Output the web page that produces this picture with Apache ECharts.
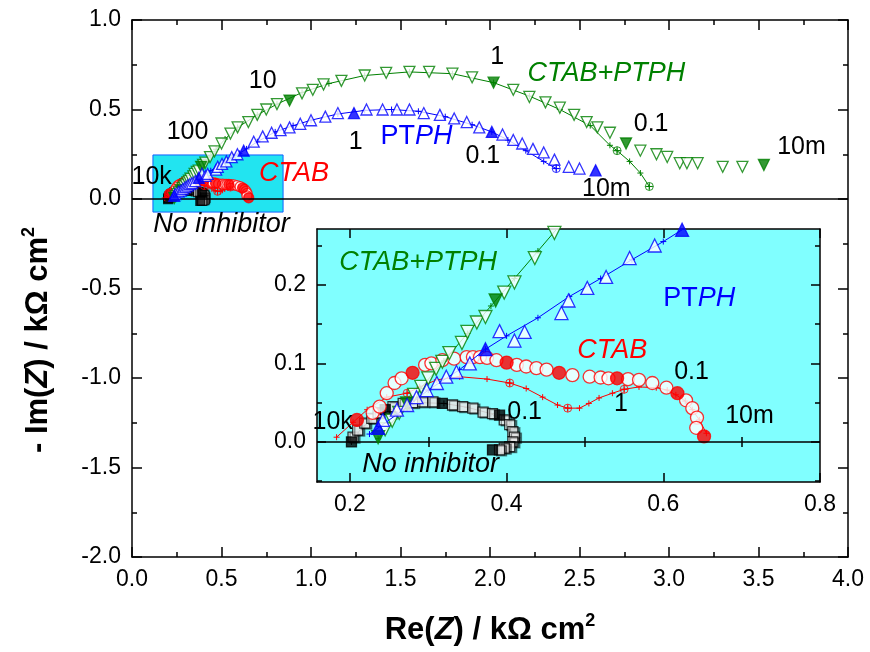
<!DOCTYPE html>
<html><head><meta charset="utf-8">
<script src="https://cdn.jsdelivr.net/npm/echarts@6/dist/echarts.min.js"></script>
<style>html,body{margin:0;padding:0;background:#fff}#c{width:870px;height:652px}</style>
</head><body><div id="c"></div><script>
// Nyquist impedance data, [Re(Z), -Im(Z)] in kOhm cm2
const noInhOpen = [[0.204,0.006],[0.21,0.015],[0.219,0.024],[0.228,0.030],[0.236,0.037],[0.255,0.045],[0.268,0.049],[0.280,0.050],[0.293,0.051],[0.306,0.051],[0.331,0.047],[0.344,0.045],[0.357,0.043],[0.37,0.038],[0.382,0.036],[0.397,0.028],[0.404,0.022],[0.408,0.013],[0.41,0.006],[0.408,0.0],[0.404,-0.006],[0.397,-0.008],[0.391,-0.010]];
const noInhFilled = [[0.202,0.0],[0.245,0.041],[0.318,0.049],[0.391,0.034],[0.382,-0.010]];
const noInhFit = [[0.202,0.0],[0.215,0.018],[0.235,0.033],[0.26,0.044],[0.29,0.050],[0.32,0.049],[0.35,0.044],[0.38,0.036],[0.40,0.024],[0.41,0.008],[0.408,-0.002]];

const ctabOpen = [[0.229,0.037],[0.238,0.045],[0.247,0.062],[0.257,0.075],[0.266,0.081],[0.296,0.098],[0.304,0.100],[0.318,0.104],[0.333,0.106],[0.349,0.108],[0.357,0.108],[0.366,0.108],[0.375,0.107],[0.387,0.104],[0.413,0.098],[0.425,0.096],[0.438,0.094],[0.451,0.092],[0.484,0.085],[0.506,0.083],[0.52,0.082],[0.53,0.081],[0.555,0.080],[0.569,0.079],[0.586,0.075],[0.604,0.069],[0.629,0.053],[0.637,0.043],[0.643,0.031],[0.642,0.018]];
const ctabFilled = [[0.209,0.028],[0.28,0.088],[0.40,0.101],[0.467,0.088],[0.541,0.081],[0.618,0.062],[0.652,0.007]];
const ctabFit = [[0.183,0.006],[0.204,0.025],[0.222,0.041],[0.247,0.057],[0.273,0.062],[0.289,0.070],[0.311,0.079],[0.340,0.083],[0.375,0.080],[0.404,0.075],[0.425,0.068],[0.446,0.057],[0.465,0.047],[0.478,0.043],[0.493,0.043],[0.505,0.049],[0.518,0.056],[0.535,0.062],[0.55,0.067],[0.569,0.070],[0.591,0.069],[0.605,0.066],[0.616,0.060],[0.628,0.052],[0.637,0.041],[0.646,0.028],[0.655,0.011]];
const ctabFitDecades = [[0.273,0.062],[0.404,0.075],[0.478,0.043],[0.55,0.067]];

const ptphOpen = [[0.242,0.028],[0.26,0.041],[0.273,0.047],[0.285,0.057],[0.298,0.066],[0.311,0.075],[0.323,0.083],[0.336,0.089],[0.353,0.100],[0.391,0.141],[0.410,0.129],[0.423,0.140],[0.470,0.164],[0.479,0.180],[0.503,0.196],[0.527,0.210],[0.557,0.234],[0.589,0.250],[0.68,0.32],[0.73,0.35],[0.78,0.37],[0.83,0.385],[0.88,0.40],[0.94,0.42],[1.00,0.44],[1.08,0.46],[1.15,0.48],[1.31,0.50],[1.40,0.50],[1.48,0.50],[1.55,0.50],[1.63,0.48],[1.72,0.47],[1.80,0.45],[1.87,0.43],[1.94,0.40],[2.07,0.36],[2.13,0.33],[2.18,0.31],[2.24,0.28],[2.30,0.26],[2.36,0.22],[2.44,0.18],[2.50,0.17]];
const ptphFilled = [[0.236,0.018],[0.373,0.118],[0.624,0.27],[1.24,0.48],[2.01,0.375],[2.59,0.16]];
const ptphFit = [[0.225,0.01],[0.26,0.035],[0.30,0.066],[0.34,0.092],[0.373,0.118],[0.40,0.135],[0.44,0.158],[0.48,0.185],[0.52,0.208],[0.56,0.232],[0.60,0.255],[0.64,0.28],[0.70,0.32],[0.80,0.375],[0.90,0.41],[1.00,0.44],[1.15,0.475],[1.30,0.495],[1.45,0.50],[1.60,0.49],[1.75,0.46],[1.90,0.415],[2.01,0.375],[2.10,0.33],[2.20,0.27],[2.30,0.21],[2.37,0.17]];
const ptphFitDecades = [[2.37,0.17]];

const mixOpen = [[0.245,0.016],[0.254,0.027],[0.263,0.037],[0.282,0.06],[0.291,0.07],[0.300,0.081],[0.310,0.093],[0.318,0.102],[0.327,0.113],[0.343,0.126],[0.350,0.140],[0.362,0.152],[0.373,0.159],[0.397,0.19],[0.410,0.203],[0.436,0.234],[0.461,0.266],[0.50,0.31],[0.55,0.365],[0.59,0.40],[0.65,0.43],[0.70,0.47],[0.75,0.50],[0.81,0.53],[0.95,0.59],[1.01,0.61],[1.07,0.64],[1.17,0.66],[1.30,0.69],[1.42,0.705],[1.55,0.71],[1.66,0.71],[1.79,0.70],[1.90,0.68],[2.13,0.61],[2.22,0.57],[2.31,0.54],[2.39,0.51],[2.47,0.47],[2.54,0.43],[2.60,0.40],[2.67,0.37],[2.84,0.27],[2.93,0.25],[2.99,0.235],[3.06,0.20],[3.10,0.20],[3.16,0.20],[3.30,0.18],[3.41,0.18]];
const mixFilled = [[0.236,0.006],[0.273,0.049],[0.386,0.18],[0.88,0.55],[2.02,0.65],[2.76,0.31],[3.53,0.19]];
const mixFit = [[0.236,0.004],[0.26,0.032],[0.29,0.068],[0.32,0.103],[0.35,0.138],[0.38,0.173],[0.41,0.208],[0.44,0.243],[0.47,0.278],[0.52,0.335],[0.59,0.40],[0.70,0.47],[0.81,0.53],[0.95,0.595],[1.10,0.645],[1.30,0.69],[1.55,0.71],[1.79,0.70],[2.02,0.65],[2.22,0.575],[2.39,0.50],[2.56,0.41],[2.67,0.30],[2.71,0.27],[2.78,0.21],[2.84,0.145],[2.89,0.07]];
const mixFitDecades = [[2.71,0.27],[2.89,0.07]];

// axis ranges and tick values
const mainXRange = [0, 4], mainYRange = [-2, 1];
const insetXRange = [0.158, 0.8], insetYRange = [-0.051, 0.271];
const insetXMajor = [0.2, 0.4, 0.6, 0.8];
const insetXMinor = [0.3, 0.5, 0.7];
const insetYMajor = [0.0, 0.1, 0.2];
const insetYMinor = [-0.05, 0.05, 0.15, 0.25];

// boxed zoom region on the main plot
const zoomBox = [[0.117, 0.246], [0.844, -0.073]];

// frequency annotations: [text, x, y]
const mainNotes = [
  ['10k', 0.11, 0.123], ['100', 0.31, 0.375], ['10', 0.73, 0.66],
  ['1', 1.25, 0.32], ['0.1', 1.96, 0.24], ['1', 2.04, 0.79],
  ['0.1', 2.90, 0.42], ['10m', 3.74, 0.29], ['10m', 2.65, 0.056]
];
// system names: [text, x, y, colour]
const mainNames = [
  ['CTAB+PTPH', 2.65, 0.70, '#008000'], ['PTPH', 1.59, 0.35, '#0000ff'],
  ['CTAB', 0.905, 0.145, '#ff0000'], ['No inhibitor', 0.50, -0.14, '#000000']
];
const insetNotes = [
  ['10k', 0.178, 0.025], ['0.1', 0.423, 0.038], ['0.1', 0.636, 0.089],
  ['1', 0.546, 0.048], ['10m', 0.71, 0.033]
];
const insetNames = [
  ['CTAB+PTPH', 0.287, 0.229, '#008000'], ['PTPH', 0.646, 0.182, '#0000ff'],
  ['CTAB', 0.535, 0.117, '#ff0000'], ['No inhibitor', 0.303, -0.029, '#000000']
];

const FONT = "'Liberation Sans', Arial, Helvetica, sans-serif";
const PLUS = 'path://M0,5L10,5M5,0L5,10';
const OPLUS = 'path://M0,5A5,5,0,1,1,10,5A5,5,0,1,1,0,5ZM0,5L10,5M5,0L5,10';
const BLACK = '#000000', RED = '#ff0000', BLUE = '#0000ff', GREEN = '#008000';

const chart = echarts.init(document.getElementById('c'), null, {renderer: 'canvas'});

function axisBase(extra) {
  return Object.assign({
    type: 'value',
    axisLine: {show: true, onZero: false, lineStyle: {color: '#000', width: 1.5}},
    axisTick: {show: true, inside: true, length: 10, lineStyle: {color: '#000', width: 1.5}},
    splitLine: {show: false},
    axisLabel: {show: false}
  }, extra);
}
const tickLabel = {show: true, color: '#000', fontSize: 23, fontFamily: FONT, margin: 11, formatter: v => v.toFixed(1)};
const minor = {show: true, splitNumber: 2, length: 5, lineStyle: {color: '#000', width: 1.5}};
function ticks(len, vals) {
  return {show: true, inside: true, length: len, customValues: vals, lineStyle: {color: '#000', width: 1.5}};
}

const xAxes = [
  axisBase({gridIndex: 0, position: 'bottom', min: mainXRange[0], max: mainXRange[1], interval: 0.5, minorTick: minor, axisLabel: tickLabel}),
  axisBase({gridIndex: 0, position: 'top', min: mainXRange[0], max: mainXRange[1], interval: 0.5, minorTick: minor}),
  axisBase({gridIndex: 1, position: 'bottom', min: insetXRange[0], max: insetXRange[1], axisTick: ticks(9, insetXMajor),
    axisLabel: Object.assign({}, tickLabel, {customValues: insetXMajor})}),
  axisBase({gridIndex: 1, position: 'top', min: insetXRange[0], max: insetXRange[1], axisTick: ticks(9, insetXMajor)}),
  axisBase({gridIndex: 1, position: 'bottom', min: insetXRange[0], max: insetXRange[1], axisLine: {show: false}, axisTick: ticks(5, insetXMinor)}),
  axisBase({gridIndex: 1, position: 'top', min: insetXRange[0], max: insetXRange[1], axisLine: {show: false}, axisTick: ticks(5, insetXMinor)})
];
const yAxes = [
  axisBase({gridIndex: 0, position: 'left', min: mainYRange[0], max: mainYRange[1], interval: 0.5, minorTick: minor, axisLabel: tickLabel}),
  axisBase({gridIndex: 0, position: 'right', min: mainYRange[0], max: mainYRange[1], interval: 0.5, minorTick: minor}),
  axisBase({gridIndex: 1, position: 'left', min: insetYRange[0], max: insetYRange[1], axisTick: ticks(9, insetYMajor),
    axisLabel: Object.assign({}, tickLabel, {customValues: insetYMajor})}),
  axisBase({gridIndex: 1, position: 'right', min: insetYRange[0], max: insetYRange[1], axisTick: ticks(9, insetYMajor)}),
  axisBase({gridIndex: 1, position: 'left', min: insetYRange[0], max: insetYRange[1], axisLine: {show: false}, axisTick: ticks(5, insetYMinor)}),
  axisBase({gridIndex: 1, position: 'right', min: insetYRange[0], max: insetYRange[1], axisLine: {show: false}, axisTick: ticks(5, insetYMinor)})
];

// one impedance system (fit line, measured points, decade markers) on a pair of axes
function systemSeries(ax, color, symbol, size, rotate, open, filled, fit, decades, z, shade) {
  const s = [];
  s.push({type: 'line', xAxisIndex: ax, yAxisIndex: ax, data: fit, z: z, silent: true,
    symbol: PLUS, symbolSize: 6, showSymbol: true, showAllSymbol: true,
    lineStyle: {color: color, width: 1},
    itemStyle: {color: 'rgba(0,0,0,0)', borderColor: color, borderWidth: 1}});
  const openStyle = {color: '#ffffff', borderColor: color, borderWidth: 1.3};
  if (shade) Object.assign(openStyle, {shadowColor: 'rgba(0,0,0,0.55)', shadowOffsetX: 2, shadowOffsetY: 1, shadowBlur: 0});
  s.push({type: 'scatter', xAxisIndex: ax, yAxisIndex: ax, data: open, z: z, silent: true,
    symbol: symbol, symbolSize: size, symbolRotate: rotate, itemStyle: openStyle});
  if (decades.length) s.push({type: 'scatter', xAxisIndex: ax, yAxisIndex: ax, data: decades, z: z, silent: true,
    symbol: OPLUS, symbolSize: 8,
    itemStyle: {color: 'rgba(0,0,0,0)', borderColor: color, borderWidth: 1}});
  s.push({type: 'scatter', xAxisIndex: ax, yAxisIndex: ax, data: filled, z: z + 0.5, silent: true,
    symbol: symbol, symbolSize: size, symbolRotate: rotate,
    itemStyle: {color: color, borderColor: color, borderWidth: 1.3}});
  return s;
}

function allSystems(ax, inset) {
  const tri = inset ? 13 : 11, circ = inset ? 13 : 10, sq = inset ? 10 : 9;
  return [].concat(
    systemSeries(ax, BLACK, 'rect', sq, 0, noInhOpen, noInhFilled, noInhFit, [], 3, inset),
    systemSeries(ax, RED, 'circle', circ, 0, ctabOpen, ctabFilled, ctabFit, ctabFitDecades, 4, false),
    systemSeries(ax, GREEN, 'triangle', tri, 180, mixOpen, mixFilled, mixFit, mixFitDecades, 5, false),
    systemSeries(ax, BLUE, 'triangle', tri, 0, ptphOpen, ptphFilled, ptphFit, ptphFitDecades, 6, false)
  );
}

const zeroLine = {symbol: 'none', silent: true, label: {show: false}, data: [{yAxis: 0}],
  lineStyle: {color: '#000', width: 1.5, type: 'solid'}};

const series = [
  {type: 'line', xAxisIndex: 0, yAxisIndex: 0, data: [], z: 1, silent: true,
    markArea: {silent: true, itemStyle: {color: '#22e4f0', borderColor: '#1060ff', borderWidth: 1},
      data: [[{coord: zoomBox[0]}, {coord: zoomBox[1]}]]},
    markLine: zeroLine},
  {type: 'line', xAxisIndex: 2, yAxisIndex: 2, data: [], z: 1, silent: true, markLine: zeroLine}
].concat(allSystems(0, false), allSystems(2, true));

chart.setOption({
  animation: false,
  backgroundColor: '#ffffff',
  grid: [
    {left: 132, top: 20, right: 22, bottom: 95, show: false},
    {left: 317, top: 229, width: 503, height: 253, show: true, backgroundColor: '#80ffff', borderWidth: 0}
  ],
  xAxis: xAxes,
  yAxis: yAxes,
  series: series
});

// text annotations placed in data space
function noteText(grid, t, x, y, color, italic) {
  const p = chart.convertToPixel({gridIndex: grid}, [x, y]);
  let style;
  if (t === 'PTPH') {
    style = {text: '{a|PT}{b|PH}', rich: {
      a: {fontSize: 27, fontFamily: FONT, fill: color},
      b: {fontSize: 27, fontFamily: FONT, fill: color, fontStyle: 'italic'}}};
  } else {
    style = {text: t, fontSize: italic ? 27 : 25, fontFamily: FONT, fill: color, fontStyle: italic ? 'italic' : 'normal'};
  }
  Object.assign(style, {x: p[0], y: p[1], align: 'center', verticalAlign: 'middle'});
  return {type: 'text', z: 50, silent: true, style: style};
}

const graphics = [];
mainNotes.forEach(n => graphics.push(noteText(0, n[0], n[1], n[2], '#000', false)));
mainNames.forEach(n => graphics.push(noteText(0, n[0], n[1], n[2], n[3], true)));
insetNotes.forEach(n => graphics.push(noteText(1, n[0], n[1], n[2], '#000', false)));
insetNames.forEach(n => graphics.push(noteText(1, n[0], n[1], n[2], n[3], true)));

// axis titles
const titleRich = {
  n: {fontSize: 31, fontWeight: 'bold', fontFamily: FONT, fill: '#000', lineHeight: 36},
  i: {fontSize: 31, fontWeight: 'bold', fontStyle: 'italic', fontFamily: FONT, fill: '#000', lineHeight: 36},
  s: {fontSize: 18, fontWeight: 'bold', fontFamily: FONT, fill: '#000', lineHeight: 36, verticalAlign: 'top'}
};
graphics.push({type: 'text', z: 50, silent: true, style: {
  x: 490, y: 630, align: 'center', verticalAlign: 'middle',
  text: '{n|Re(}{i|Z}{n|) / kΩ cm}{s|2}', rich: titleRich}});
graphics.push({type: 'text', z: 50, silent: true, x: 38, y: 340, rotation: Math.PI / 2, style: {
  x: 0, y: 0, align: 'center', verticalAlign: 'middle',
  text: '{n|- Im(}{i|Z}{n|) / kΩ cm}{s|2}', rich: titleRich}});

chart.setOption({graphic: graphics});
</script></body></html>
